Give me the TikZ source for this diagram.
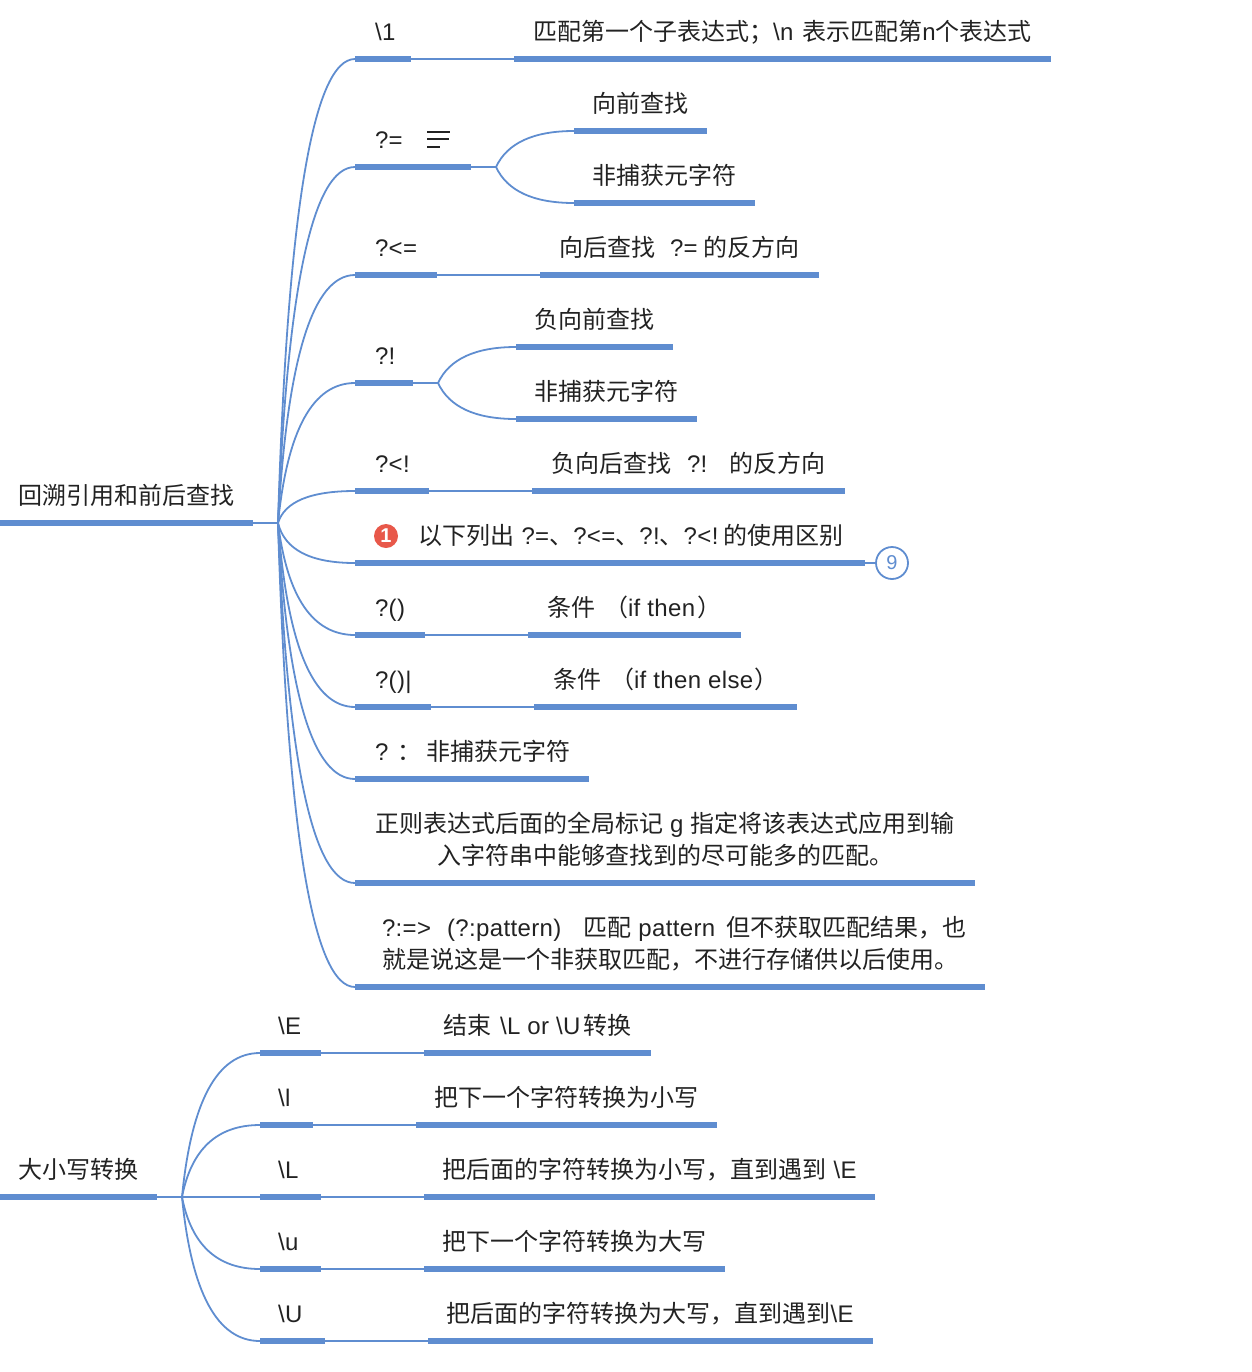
\documentclass[tikz,border=0pt]{standalone}
\usepackage{fontspec}
\usetikzlibrary{calc}
\setmainfont{Noto Sans CJK SC}
\newfontfamily\latinfam[LetterSpace=1.5]{Liberation Sans}
\newcommand{\lat}[1]{{\latinfam #1}}
\newcommand{\gapx}[1]{\hspace*{0.5\dimexpr #1pt\relax}}
\definecolor{mapblue}{HTML}{5F8DD0}
\definecolor{ink}{HTML}{222222}
\definecolor{badge}{HTML}{E8584A}
\tikzset{
  x=0.5pt,y=-0.5pt,
  bar/.style={draw=mapblue,line width=3pt},
  link/.style={draw=mapblue,line width=0.9pt},
  label/.style={anchor=base west,inner sep=0pt,outer sep=0pt,text=ink,font=\fontsize{12pt}{16pt}\selectfont},
  countcircle/.style={circle,draw=mapblue,fill=white,line width=0.9pt,minimum size=16pt,inner sep=0pt,text=mapblue,font=\fontsize{10pt}{12pt}\latinfam\selectfont},
  redbadge/.style={circle,fill=badge,minimum size=12pt,inner sep=0pt,text=white,font=\fontsize{10pt}{10pt}\latinfam\bfseries\selectfont}
}
% name, y, start, end of a bar
\newcommand{\barrow}[4]{\coordinate (#1s) at (#3,#2); \coordinate (#1e) at (#4,#2); \draw[bar] (#1s) -- (#1e);}
% hub, target coordinate, control-x
\newcommand{\branch}[3]{\coordinate (xc) at (#3,0); \coordinate (ctl) at (xc |- #2); \draw[link] (#1) .. controls ($(#1)!0.667!(ctl)$) and ($(#2)!0.667!(ctl)$) .. (#2);}
\begin{document}
\begin{tikzpicture}
\useasboundingbox (0,0) rectangle (1252,1372);
\coordinate (hubA) at (278,523);
\coordinate (hubB) at (182,1197);
\coordinate (hubC) at (496,167);
\coordinate (hubD) at (438,383);
% root bars
\barrow{rootA}{523}{0}{253}
\barrow{rootB}{1197}{0}{157}
\draw[link] (rootAe) -- (hubA);
\draw[link] (rootBe) -- (hubB);
\node[label] (trootA) at (18.5,504.5) {回溯引用和前后查找};
\node[label] (trootB) at (18.5,1178.5) {大小写转换};
% upper first level
\barrow{a1}{59}{355}{411}
\barrow{a2}{167}{355}{471}
\barrow{a3}{275}{355}{437}
\barrow{a4}{383}{355}{413}
\barrow{a5}{491}{355}{429}
\barrow{a6}{563}{355}{865}
\barrow{a7}{635}{355}{425}
\barrow{a8}{707}{355}{431}
\barrow{a9}{779}{355}{589}
\barrow{a10}{883}{355}{975}
\barrow{a11}{987}{355}{985}
\branch{hubA}{a1s}{292}
\branch{hubA}{a2s}{292}
\branch{hubA}{a3s}{292}
\branch{hubA}{a4s}{292}
\branch{hubA}{a5s}{288}
\branch{hubA}{a6s}{288}
\branch{hubA}{a7s}{292}
\branch{hubA}{a8s}{292}
\branch{hubA}{a9s}{292}
\branch{hubA}{a10s}{292}
\branch{hubA}{a11s}{292}
% upper second level
\barrow{c1}{59}{514}{1051}
\barrow{c3}{275}{540}{819}
\barrow{c5}{491}{532}{845}
\barrow{c7}{635}{528}{741}
\barrow{c8}{707}{534}{797}
\draw[link] (a1e) -- (c1s);
\draw[link] (a3e) -- (c3s);
\draw[link] (a5e) -- (c5s);
\draw[link] (a7e) -- (c7s);
\draw[link] (a8e) -- (c8s);
\barrow{c2a}{131}{574}{707}
\barrow{c2b}{203}{574}{755}
\barrow{c4a}{347}{516}{673}
\barrow{c4b}{419}{516}{697}
\draw[link] (a2e) -- (hubC);
\draw[link] (a4e) -- (hubD);
\branch{hubC}{c2as}{513}
\branch{hubC}{c2bs}{513}
\branch{hubD}{c4as}{455}
\branch{hubD}{c4bs}{455}
% lower level
\barrow{b1}{1053}{260}{321}
\barrow{b2}{1125}{260}{313}
\barrow{b3}{1197}{260}{321}
\barrow{b4}{1269}{260}{321}
\barrow{b5}{1341}{260}{325}
\branch{hubB}{b1s}{196}
\branch{hubB}{b2s}{196}
\branch{hubB}{b4s}{196}
\branch{hubB}{b5s}{196}
\draw[link] (hubB) -- (b3s);
\barrow{d1}{1053}{424}{651}
\barrow{d2}{1125}{416}{717}
\barrow{d3}{1197}{424}{875}
\barrow{d4}{1269}{424}{725}
\barrow{d5}{1341}{428}{873}
\draw[link] (b1e) -- (d1s);
\draw[link] (b2e) -- (d2s);
\draw[link] (b3e) -- (d3s);
\draw[link] (b4e) -- (d4s);
\draw[link] (b5e) -- (d5s);
% upper texts
\node[label] (ta1) at (375,40.5) {\lat{\textbackslash 1}};
\node[label] (tc1) at (533,40.5) {匹配第一个子表达式；\lat{\textbackslash n }\gapx{2}表示匹配第\lat{n}个表达式};
\node[label] (ta2) at (375,148.5) {\lat{?=}};
\draw[ink,line width=1pt] (427,131.5) -- (449.5,131.5) (427,139) -- (449,139) (427,146.5) -- (440,146.5);
\node[label] (tc2a) at (592.5,112.5) {向前查找};
\node[label] (tc2b) at (592.5,184.5) {非捕获元字符};
\node[label] (ta3) at (375,256.5) {\lat{?<=}};
\node[label] (tc3) at (559,256.5) {向后查找\gapx{15}\lat{?=}\gapx{6}的反方向};
\node[label] (ta4) at (375,364.5) {\lat{?!}};
\node[label] (tc4a) at (534.5,328.5) {负向前查找};
\node[label] (tc4b) at (534.5,400.5) {非捕获元字符};
\node[label] (ta5) at (375,472.5) {\lat{?<!}};
\node[label] (tc5) at (551,472.5) {负向后查找\gapx{16}\lat{?!}\gapx{22}的反方向};
\node[redbadge] (badge1) at (386,536) {1};
\node[label] (ta6) at (418.5,544.5) {以下列出\lat{ ?=}、\lat{?<=}、\lat{?!}、\lat{?<!}\gapx{5}的使用区别};
\node[countcircle] (count) at (892,563) {9};
\draw[link] (a6e) -- (count);
\node[label] (ta7) at (375,616.5) {\lat{?()}};
\node[label] (tc7) at (547,616.5) {条件\gapx{9}（\lat{if then}\gapx{2}）};
\node[label] (ta8) at (375,688.5) {\lat{?()|}};
\node[label] (tc8) at (553,688.5) {条件\gapx{9}（\lat{if then else}\gapx{1}）};
\node[label] (ta9) at (375,760.5) {\lat{?}\gapx{9}：\gapx{5}非捕获元字符};
\node[label] (ta10a) at (375,832.5) {正则表达式后面的全局标记\lat{ g }指定将该表达式应用到输};
\node[label] (ta10b) at (437,864.5) {入字符串中能够查找到的尽可能多的匹配。};
\node[label] (ta11a) at (382,936.5) {\lat{?:=>}\gapx{16}\lat{(?:pattern)}\gapx{22}匹配\lat{ pattern }\gapx{4}但不获取匹配结果，也};
\node[label] (ta11b) at (382,968.5) {就是说这是一个非获取匹配，不进行存储供以后使用。};
% lower texts
\node[label] (tb1) at (278,1034.5) {\lat{\textbackslash E}};
\node[label] (td1) at (443,1034.5) {结束\gapx{2}\lat{ \textbackslash L or \textbackslash U}\gapx{3}转换};
\node[label] (tb2) at (278,1106.5) {\lat{\textbackslash l}};
\node[label] (td2) at (434.5,1106.5) {把下一个字符转换为小写};
\node[label] (tb3) at (278,1178.5) {\lat{\textbackslash L}};
\node[label] (td3) at (442.5,1178.5) {把后面的字符转换为小写，直到遇到\lat{ \textbackslash E}};
\node[label] (tb4) at (278,1250.5) {\lat{\textbackslash u}};
\node[label] (td4) at (442.5,1250.5) {把下一个字符转换为大写};
\node[label] (tb5) at (278,1322.5) {\lat{\textbackslash U}};
\node[label] (td5) at (446.5,1322.5) {把后面的字符转换为大写，直到遇到\lat{\textbackslash E}};
\end{tikzpicture}
\end{document}
